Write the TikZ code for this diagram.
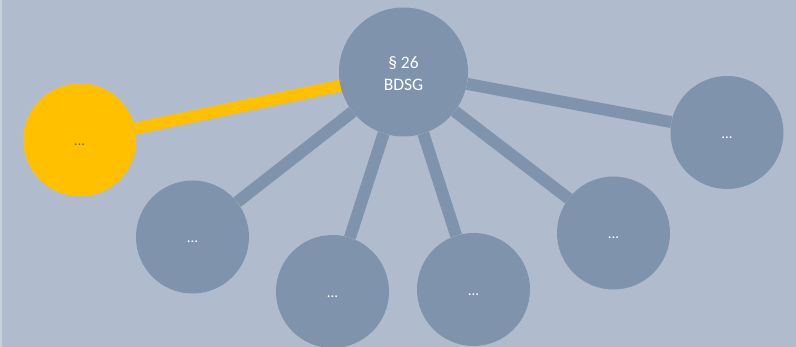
\documentclass[tikz,border=0pt]{standalone}
\usepackage{fontspec}
\setmainfont{Carlito}
\usetikzlibrary{backgrounds}

\definecolor{bgblue}{HTML}{B0BCCD}
\definecolor{edgeblue}{HTML}{C9D1DC}
\definecolor{nodeblue}{HTML}{7F93AD}
\definecolor{hlyellow}{HTML}{FFC000}
\definecolor{dotgray}{HTML}{7A6A3A}

\tikzset{
  topic/.style={circle, fill=nodeblue, minimum size=113pt, inner sep=0pt, text=white},
  sub/.style={topic, font=\fontsize{15}{18}\selectfont, text height=12pt, text depth=0pt},
  link/.style={draw=nodeblue, line width=12pt},
}

\begin{document}
\begin{tikzpicture}[x=1pt,y=-1pt]
    \useasboundingbox (0,0) rectangle (796,347);

    % Central node
    \node[topic, minimum size=129pt] (bdsg) at (403.5,72) {};
    \node[text=white, align=center, inner sep=0pt,
          font=\fontsize{17.5}{22}\selectfont] (bdsgtext) at (403.5,74) {§ 26\\BDSG};

    % Surrounding nodes
    \node[sub, fill=hlyellow, text=dotgray] (n1) at (79.5,139.5) {...};
    \node[sub] (n2) at (192.5,237) {...};
    \node[sub] (n3) at (332.5,291.5) {...};
    \node[sub] (n4) at (473.5,289.5) {...};
    \node[sub] (n5) at (613.5,233) {...};
    \node[sub] (n6) at (727,132.5) {...};

    % Background and connectors
    \begin{scope}[on background layer]
        \fill[bgblue] (0,0) rectangle (796,347);
        \fill[edgeblue] (0,0) rectangle (2,347);
        \draw[link, draw=hlyellow] (bdsg) -- (n1);
        \foreach \n in {n2,n3,n4,n5,n6}
            \draw[link] (bdsg) -- (\n);
    \end{scope}
\end{tikzpicture}
\end{document}
